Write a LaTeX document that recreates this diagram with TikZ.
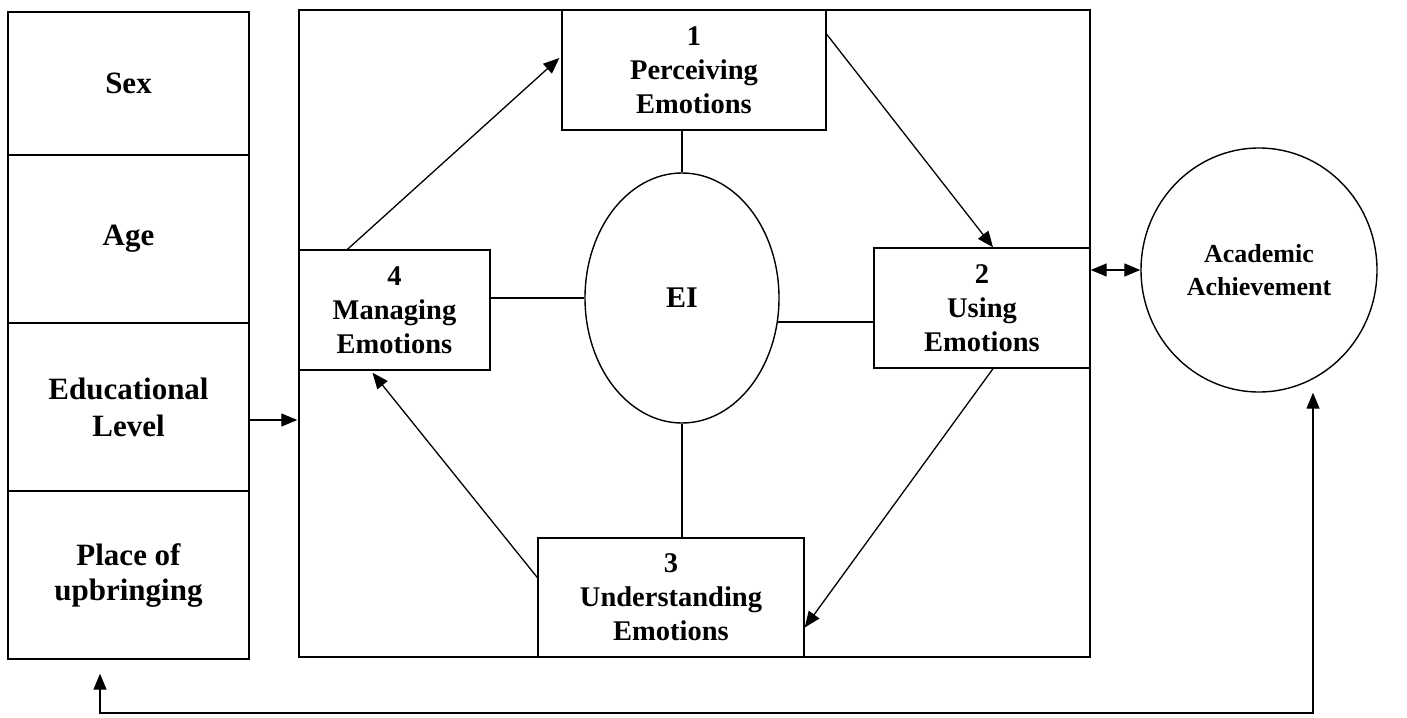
\documentclass[tikz,border=0pt]{standalone}
\usepackage{fontspec}
\setmainfont{Liberation Serif}
\usetikzlibrary{arrows.meta,calc,shapes.geometric}
\tikzset{
  cell/.style={draw, line width=1.4pt, minimum width=241pt, inner sep=0pt, align=center,
    font=\fontsize{31}{37}\selectfont\bfseries},
  ebox/.style={draw, line width=1.4pt, inner sep=0pt, align=center,
    font=\fontsize{28.5}{34}\selectfont\bfseries},
  oval/.style={draw, ellipse, line width=1.4pt, inner sep=0pt, align=center},
  conn/.style={line width=1.3pt},
  arr/.style={line width=1.3pt, -{Triangle[length=16pt,width=13pt]}},
  darr/.style={line width=1.3pt, {Triangle[length=16pt,width=13pt]}-{Triangle[length=16pt,width=13pt]}},
}
\begin{document}
\begin{tikzpicture}[x=1pt,y=-1pt]
\useasboundingbox (0,0) rectangle (1407,717);
% left column
\node[cell, minimum height=143pt] (c1) at (128.5,83.5) {Sex};
\node[cell, minimum height=168pt] (c2) at (128.5,239) {Age};
\node[cell, minimum height=168pt] (c3) at (128.5,407) {Educational\\Level};
\node[cell, minimum height=168pt, font=\fontsize{31}{35}\selectfont\bfseries] (c4) at (128.5,575) {Place of\\upbringing};
% big box
\node[draw, line width=1.4pt, minimum width=791pt, minimum height=647pt, inner sep=0pt] (big) at (694.5,333.5) {};
% branch boxes
\node[ebox, minimum width=264pt, minimum height=120pt] (b1) at (694,70) {1\\Perceiving\\Emotions};
\node[ebox, minimum width=191pt, minimum height=120pt] (b4) at (394.5,310) {4\\Managing\\Emotions};
\node[ebox, minimum width=216pt, minimum height=120pt] (b2) at (982,308) {2\\Using\\Emotions};
\node[ebox, minimum width=266pt, minimum height=119pt] (b3) at (671,597.5) {3\\Understanding\\Emotions};
% EI
\node[oval, minimum width=194pt, minimum height=250pt, font=\fontsize{30}{34}\selectfont\bfseries] (ei) at (682,298) {EI};
% academic achievement
\node[oval, minimum width=236pt, minimum height=244pt, font=\fontsize{26}{33}\selectfont\bfseries] (acad) at (1259,270) {Academic\\Achievement};
% links to EI
\draw[conn] (b1.south -| ei.north) -- (ei.north);
\draw[conn] (ei.west) -- (ei.west -| b4.east);
\draw[conn] (ei.-14) -- (ei.-14 -| b2.west);
\draw[conn] (ei.south) -- (ei.south |- b3.north);
% cycle arrows
\draw[arr] ($(b1.north east)+(0,25)$) -- ($(b2.north)+(11,0)$);
\draw[arr] ($(b2.south)+(11,0)$) -- ($(b3.east)+(0,30)$);
\draw[arr] ($(b3.west)+(0,-20)$) -- ($(b4.south)+(-22,2)$);
\draw[arr] ($(b4.north)+(-47,0)$) -- ($(b1.west)+(-2,-12)$);
% left column to big box
\draw[arr] ($(c3.east)+(0,13)$) -- ($(big.west)+(-1,86.5)$);
% big box to academic
\draw[darr] (acad.west -| big.east) -- (acad.west);
% feedback line
\coordinate (bl) at (100,713);
\coordinate (br) at (1313,713);
\draw[darr] ($(c4.south)+(-28.5,14)$) -- (bl) -- (br) -- ($(acad.south)+(54,0)$);
\end{tikzpicture}
\end{document}
